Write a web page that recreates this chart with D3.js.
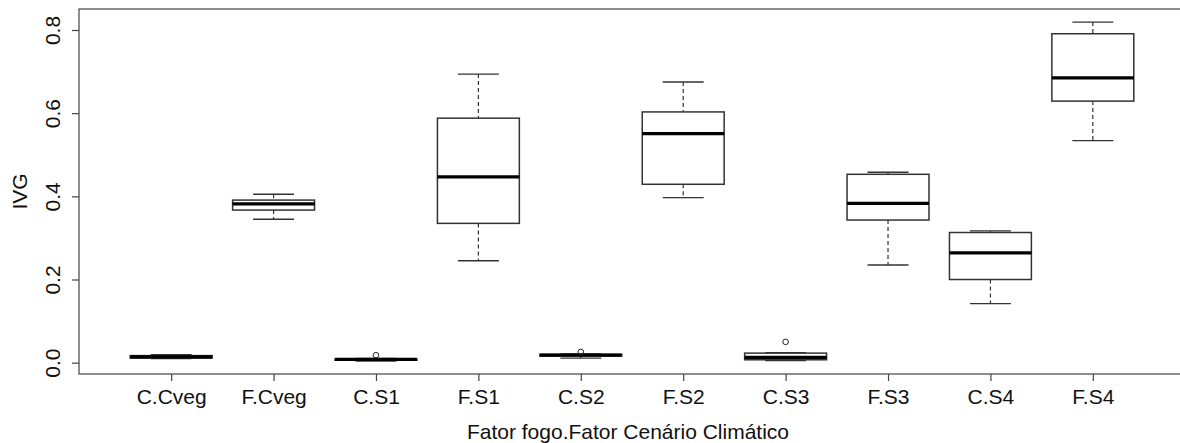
<!DOCTYPE html>
<html lang="pt">
<head>
<meta charset="UTF-8">
<title>IVG boxplot</title>
<script src="https://d3js.org/d3.v7.min.js"></script>
<style>
  body { margin: 0; background: #fff; }
  text { font-family: "Liberation Sans", Arial, sans-serif; fill: #111; }
</style>
</head>
<body>
<div id="chart"></div>
<script>
// groups (Fator fogo . Fator Cenário Climático)
const groups = ["C.Cveg", "F.Cveg", "C.S1", "F.S1", "C.S2", "F.S2", "C.S3", "F.S3", "C.S4", "F.S4"];
// five-number summaries
const lowWhisker  = [0.010, 0.345, 0.004, 0.245, 0.011, 0.397, 0.005, 0.235, 0.142, 0.534];
const lowerQ      = [0.011, 0.367, 0.006, 0.335, 0.016, 0.429, 0.007, 0.343, 0.200, 0.629];
const medians     = [0.014, 0.382, 0.008, 0.447, 0.018, 0.551, 0.013, 0.383, 0.264, 0.685];
const upperQ      = [0.017, 0.391, 0.009, 0.588, 0.020, 0.603, 0.023, 0.453, 0.313, 0.791];
const highWhisker = [0.019, 0.405, 0.010, 0.694, 0.021, 0.675, 0.024, 0.458, 0.317, 0.819];
const outliers    = [[], [], [0.018], [], [0.026], [], [0.050], [], [], []];
const yTicks = [0.0, 0.2, 0.4, 0.6, 0.8];

const W = 1180, H = 443;
const mLeft = 79, mTop = 9, mRight = 1185, mBottom = 374;

const svg = d3.select("#chart").append("svg").attr("width", W).attr("height", H);

const x = d3.scalePoint().domain(groups).range([mLeft, mRight]).padding(0.9);
const y = d3.scaleLinear().domain([-0.0272, 0.8505]).range([mBottom, mTop]);
const step = x.step();
const boxW = step * 0.8, capW = step * 0.4;

const data = groups.map((g, i) => ({
  g, lo: lowWhisker[i], q1: lowerQ[i], med: medians[i], q3: upperQ[i], hi: highWhisker[i], out: outliers[i]
}));

// frame
svg.append("rect")
  .attr("x", mLeft).attr("y", mTop)
  .attr("width", mRight - mLeft).attr("height", mBottom - mTop)
  .attr("fill", "none").attr("stroke", "#444").attr("stroke-width", 1.2);

// axes
const xAxis = svg.append("g")
  .attr("transform", `translate(0,${mBottom})`)
  .call(d3.axisBottom(x).tickSize(7).tickPadding(8));
xAxis.select(".domain").remove();
xAxis.selectAll("line").attr("stroke", "#444").attr("stroke-width", 1.2);
xAxis.selectAll("text").attr("font-size", 21).attr("fill", "#111")
  .style("font-family", "Liberation Sans, Arial, sans-serif");

const yAxis = svg.append("g")
  .attr("transform", `translate(${mLeft},0)`)
  .call(d3.axisLeft(y).tickValues(yTicks).tickFormat(d3.format(".1f")).tickSize(7));
yAxis.select(".domain").remove();
yAxis.selectAll("line").attr("stroke", "#444").attr("stroke-width", 1.2);
yAxis.selectAll("text")
  .attr("font-size", 21).attr("fill", "#111")
  .style("font-family", "Liberation Sans, Arial, sans-serif")
  .attr("text-anchor", "middle")
  .attr("dy", 0)
  .attr("x", 0).attr("y", 0)
  .attr("transform", "translate(-19,0) rotate(-90)");

// axis titles
svg.append("text")
  .attr("x", (mLeft + mRight) / 2 - 4).attr("y", 439)
  .attr("text-anchor", "middle").attr("font-size", 21)
  .text("Fator fogo.Fator Cenário Climático");

svg.append("text")
  .attr("transform", `translate(27,${(mTop + mBottom) / 2}) rotate(-90)`)
  .attr("text-anchor", "middle").attr("font-size", 21)
  .text("IVG");

// boxes
const box = svg.append("g").selectAll("g").data(data).join("g")
  .attr("transform", d => `translate(${x(d.g)},0)`);

// dashed whiskers
box.append("line")
  .attr("y1", d => y(d.hi)).attr("y2", d => y(d.q3))
  .attr("stroke", "#333").attr("stroke-width", 1.2).attr("stroke-dasharray", "4,3");
box.append("line")
  .attr("y1", d => y(d.q1)).attr("y2", d => y(d.lo))
  .attr("stroke", "#333").attr("stroke-width", 1.2).attr("stroke-dasharray", "4,3");

// staples
box.append("line")
  .attr("x1", -capW / 2).attr("x2", capW / 2)
  .attr("y1", d => y(d.hi)).attr("y2", d => y(d.hi))
  .attr("stroke", "#333").attr("stroke-width", 1.4);
box.append("line")
  .attr("x1", -capW / 2).attr("x2", capW / 2)
  .attr("y1", d => y(d.lo)).attr("y2", d => y(d.lo))
  .attr("stroke", "#333").attr("stroke-width", 1.4);

// box body
box.append("rect")
  .attr("x", -boxW / 2).attr("width", boxW)
  .attr("y", d => y(d.q3)).attr("height", d => y(d.q1) - y(d.q3))
  .attr("fill", "#fff").attr("stroke", "#333").attr("stroke-width", 1.5);

// median
box.append("line")
  .attr("x1", -boxW / 2).attr("x2", boxW / 2)
  .attr("y1", d => y(d.med)).attr("y2", d => y(d.med))
  .attr("stroke", "#000").attr("stroke-width", 3.2);

// outliers
box.selectAll("circle").data(d => d.out).join("circle")
  .attr("cx", 0).attr("cy", v => y(v)).attr("r", 2.8)
  .attr("fill", "none").attr("stroke", "#222").attr("stroke-width", 1);
</script>
</body>
</html>
